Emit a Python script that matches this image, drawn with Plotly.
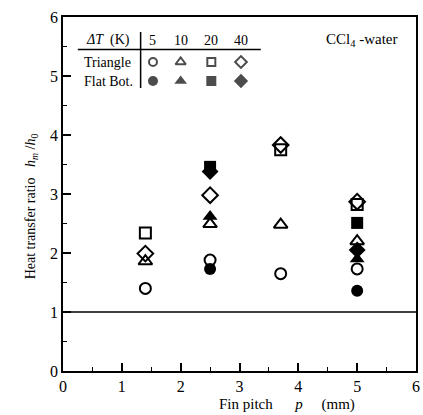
import plotly.graph_objects as go

# ---- data ----
pitch = [1.4, 2.5, 3.7, 5.0]
dT_labels = ["5", "10", "20", "40"]
tri_5 = [1.40, 1.88, 1.65, 1.73]
tri_10 = [1.86, 2.49, 2.48, 2.20]
tri_20 = [2.34, None, 3.75, 2.82]
tri_40 = [1.99, 2.98, 3.83, 2.87]
flat_5 = [None, 1.73, None, 1.36]
flat_10 = [None, 2.62, None, 1.90]
flat_20 = [None, 3.46, None, 2.51]
flat_40 = [None, 3.38, None, 2.05]
x_ticks = [0, 1, 2, 3, 4, 5, 6]
y_ticks = [0, 1, 2, 3, 4, 5, 6]

W, H = 423, 415
ML, MR, MT, MB = 63, 3, 17, 44
PW, PH = W - ML - MR, H - MT - MB
FONT = "Liberation Serif"


def px(x):
    return (x - ML) / PW


def py(y):
    return (H - MB - y) / PH


open_sym = ["circle-open", "triangle-up-open", "square-open", "diamond-open"]
fill_sym = ["circle", "triangle-up", "square", "diamond"]
sizes = [12, 13, 12, 13]

fig = go.Figure()
tri_series = [tri_5, tri_10, tri_20, tri_40]
flat_series = [flat_5, flat_10, flat_20, flat_40]
for i, ys in enumerate(flat_series):
    fig.add_trace(go.Scatter(x=pitch, y=ys, mode="markers", showlegend=False, hoverinfo="skip",
                             marker=dict(symbol=fill_sym[i], size=sizes[i], color="black",
                                         line=dict(width=0))))
for i, ys in enumerate(tri_series):
    fig.add_trace(go.Scatter(x=pitch, y=ys, mode="markers", showlegend=False, hoverinfo="skip",
                             marker=dict(symbol=open_sym[i], size=sizes[i] - 1, color="black",
                                         line=dict(width=2, color="black"))))

# legend table markers on an overlay paper-like axis
col_px = [154, 182, 213, 243]
row_tri, row_flat = 62, 81
fig.add_trace(go.Scatter(x=[px(c) for c in col_px], y=[py(row_tri)] * 4, mode="markers",
                         xaxis="x2", yaxis="y2", showlegend=False, hoverinfo="skip",
                         marker=dict(symbol=open_sym, size=[8, 9, 8, 9], color="black",
                                     line=dict(width=2, color="black"))))
fig.add_trace(go.Scatter(x=[px(c) for c in col_px], y=[py(row_flat)] * 4, mode="markers",
                         xaxis="x2", yaxis="y2", showlegend=False, hoverinfo="skip",
                         marker=dict(symbol=fill_sym, size=[10, 11, 10, 11], color="black",
                                     line=dict(width=0))))

ann = []
tf = dict(family=FONT, size=14, color="black")
ann.append(dict(x=px(109), y=py(40), xref="paper", yref="paper", text="<i>ΔT</i>  (K)",
                showarrow=False, font=tf, xanchor="center", yanchor="middle"))
for c, t in zip(col_px, dT_labels):
    ann.append(dict(x=px(c), y=py(40), xref="paper", yref="paper", text=t,
                    showarrow=False, font=tf, xanchor="center", yanchor="middle"))
ann.append(dict(x=px(82), y=py(row_tri), xref="paper", yref="paper", text="Triangle",
                showarrow=False, font=tf, xanchor="left", yanchor="middle"))
ann.append(dict(x=px(82), y=py(row_flat), xref="paper", yref="paper", text="Flat Bot.",
                showarrow=False, font=tf, xanchor="left", yanchor="middle"))
ann.append(dict(x=px(404), y=py(40), xref="paper", yref="paper", text="CCl<sub>4</sub> -water",
                showarrow=False, font=dict(family=FONT, size=15, color="black"),
                xanchor="right", yanchor="middle"))
ann.append(dict(x=px(290), y=py(404), xref="paper", yref="paper",
                text="Fin pitch      <i>p</i>     (mm)",
                showarrow=False, font=dict(family=FONT, size=15, color="black"),
                xanchor="center", yanchor="middle"))
ann.append(dict(x=px(31), y=py(206), xref="paper", yref="paper",
                text="Heat transfer ratio   <i>h<sub>m</sub></i> /<i>h</i><sub>0</sub>",
                textangle=-90, showarrow=False, font=dict(family=FONT, size=14, color="black"),
                xanchor="center", yanchor="middle"))

shapes = [
    dict(type="line", xref="paper", yref="y", x0=0, x1=1, y0=1, y1=1,
         line=dict(color="black", width=1.5)),
    dict(type="line", xref="paper", yref="paper", x0=px(78), x1=px(263), y0=py(49.5), y1=py(49.5),
         line=dict(color="black", width=1.5)),
    dict(type="line", xref="paper", yref="paper", x0=px(141.5), x1=px(141.5), y0=py(32), y1=py(88),
         line=dict(color="black", width=1.5)),
]

axis_common = dict(showgrid=False, zeroline=False, showline=True, linecolor="black", linewidth=1.5,
                   mirror=True, ticks="inside", ticklen=8, tickwidth=1.5, tickcolor="black",
                   tickfont=dict(family=FONT, size=16, color="black"),
                   minor=dict(ticks="inside", ticklen=4, tickwidth=1.2, dtick=0.5, tickcolor="black"))

fig.update_layout(
    width=W, height=H, margin=dict(l=ML, r=MR, t=MT, b=MB),
    font=dict(family=FONT, color="black"),
    paper_bgcolor="white", plot_bgcolor="white",
    xaxis=dict(range=[0, 6], tickvals=x_ticks, ticktext=[str(v) for v in x_ticks], **axis_common),
    yaxis=dict(range=[0, 6], tickvals=y_ticks, ticktext=[str(v) for v in y_ticks], **axis_common),
    xaxis2=dict(range=[0, 1], overlaying="x", visible=False, domain=[0, 1]),
    yaxis2=dict(range=[0, 1], overlaying="y", visible=False),
    annotations=ann, shapes=shapes, showlegend=False,
)

fig.write_html("out.html", config={"displayModeBar": False},
               post_script="document.body.style.margin='0';document.body.style.overflow='hidden';")
